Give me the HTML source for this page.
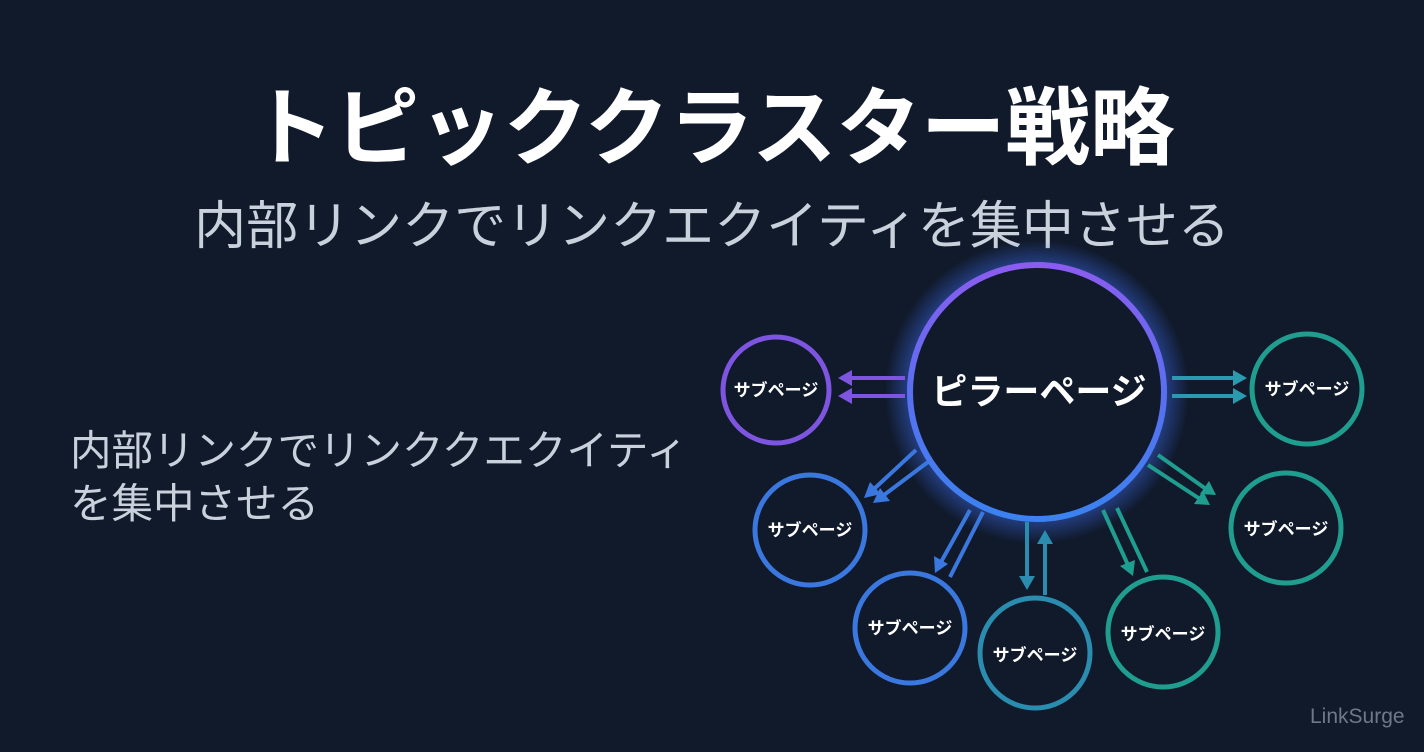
<!DOCTYPE html>
<html><head><meta charset="utf-8"><style>
html,body{margin:0;padding:0;width:1424px;height:752px;overflow:hidden;background:#111a2b;}
body{position:relative;font-family:"Liberation Sans","Noto Sans CJK JP",sans-serif;}
.t{position:absolute;white-space:nowrap;}
</style></head><body>
<div class="t" style="left:0;width:1424px;text-align:center;top:78px;font-size:85px;font-weight:bold;color:#fff;line-height:104px;letter-spacing:-0.5px;">トピッククラスター戦略</div>
<div class="t" style="left:0;width:1424px;text-align:center;top:194px;font-size:52px;color:#c9d1dd;line-height:66px;">内部リンクでリンクエクイティを集中させる</div>
<div class="t" style="left:70px;top:424px;font-size:41.5px;color:#c9d1dd;line-height:53px;">内部リンクでリンククエクイティ<br>を集中させる</div>
<div class="t" style="left:1310px;top:705px;font-size:21px;color:#6f7888;">LinkSurge</div>
<svg width="1424" height="752" style="position:absolute;left:0;top:0">
<defs>
<linearGradient id="pg" x1="0" y1="0" x2="0" y2="1"><stop offset="0" stop-color="#8b5cf0"/><stop offset="0.5" stop-color="#5a6ff0"/><stop offset="1" stop-color="#3b82f0"/></linearGradient>
<radialGradient id="gl" cx="0.5" cy="0.5" r="0.5"><stop offset="0.82" stop-color="#3b6cf0" stop-opacity="0.5"/><stop offset="1" stop-color="#3b6cf0" stop-opacity="0"/></radialGradient>
</defs>
<circle cx="1037" cy="392" r="152" fill="url(#gl)"/>
<circle cx="1037" cy="392" r="127" fill="#111a2b" stroke="url(#pg)" stroke-width="6"/>
<text x="1039" y="404" text-anchor="middle" font-size="36" font-weight="bold" fill="#fff" font-family="Liberation Sans,Noto Sans CJK JP,sans-serif">ピラーページ</text>
<g fill="#111a2b" stroke-width="5">
<circle cx="776" cy="390" r="53" stroke="#7d55e0"/>
<circle cx="810" cy="530" r="55" stroke="#3a78e0"/>
<circle cx="910" cy="628" r="55" stroke="#3a78e0"/>
<circle cx="1035" cy="653" r="55" stroke="#2a8db0"/>
<circle cx="1163" cy="632" r="55" stroke="#1f9e90"/>
<circle cx="1286" cy="528" r="55" stroke="#1f9e90"/>
<circle cx="1307" cy="389" r="55" stroke="#1f9e90"/>
</g>
<g font-size="17" font-weight="bold" fill="#fff" text-anchor="middle" font-family="Liberation Sans,Noto Sans CJK JP,sans-serif">
<text x="776" y="396">サブページ</text>
<text x="810" y="536">サブページ</text>
<text x="910" y="634">サブページ</text>
<text x="1035" y="661">サブページ</text>
<text x="1163" y="640">サブページ</text>
<text x="1286" y="535">サブページ</text>
<text x="1307" y="395">サブページ</text>
</g>
<g stroke-width="4">
<line x1="905" y1="378" x2="850" y2="378" stroke="#7d55e0"/><polygon points="838,378 852,370 852,386" fill="#7d55e0"/>
<line x1="905" y1="396" x2="850" y2="396" stroke="#7d55e0"/><polygon points="838,396 852,388 852,404" fill="#7d55e0"/>
<line x1="1172" y1="378" x2="1235" y2="378" stroke="#2a9ab0"/><polygon points="1247,378 1233,370 1233,386" fill="#2a9ab0"/>
<line x1="1172" y1="396" x2="1235" y2="396" stroke="#2a9ab0"/><polygon points="1247,396 1233,388 1233,404" fill="#2a9ab0"/>
<line x1="916" y1="450" x2="874" y2="489" stroke="#3a78e0"/><polygon points="864,498 870,482 881,494" fill="#3a78e0"/>
<line x1="928" y1="462" x2="884" y2="495" stroke="#3a78e0"/><polygon points="873,503 880,488 890,501" fill="#3a78e0"/>
<line x1="970" y1="510" x2="941" y2="562" stroke="#3a78e0"/><polygon points="935,573 934,556 948,564" fill="#3a78e0"/>
<line x1="983" y1="512" x2="950" y2="577" stroke="#3a78e0"/>
<line x1="1027" y1="522" x2="1027" y2="578" stroke="#2a8db0"/><polygon points="1027,590 1019,576 1035,576" fill="#2a8db0"/>
<line x1="1045" y1="595" x2="1045" y2="542" stroke="#2a8db0"/><polygon points="1045,530 1037,544 1053,544" fill="#2a8db0"/>
<line x1="1103" y1="510" x2="1128" y2="565" stroke="#1f9e90"/><polygon points="1133,576 1120,566 1135,560" fill="#1f9e90"/>
<line x1="1117" y1="508" x2="1147" y2="572" stroke="#1f9e90"/>
<line x1="1148" y1="465" x2="1200" y2="499" stroke="#1f9e90"/><polygon points="1210,505 1194,504 1203,491" fill="#1f9e90"/>
<line x1="1158" y1="455" x2="1206" y2="489" stroke="#1f9e90"/><polygon points="1216,495 1200,494 1209,481" fill="#1f9e90"/>
</g>
</svg>
</body></html>
